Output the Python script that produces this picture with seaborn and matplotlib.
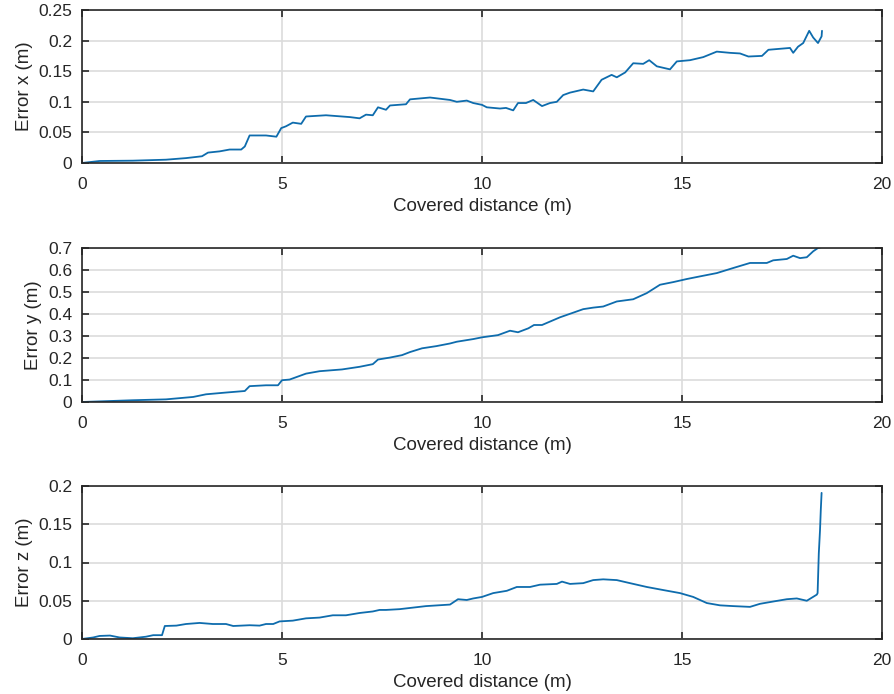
import numpy as np
import pandas as pd
import matplotlib
matplotlib.use("Agg")
import matplotlib.pyplot as plt
import seaborn as sns

# ---- data ----
dist_x = [0.0, 0.44, 1.27, 2.1, 2.6, 3.0, 3.15, 3.44, 3.69, 3.98, 4.07, 4.19, 4.6, 4.86,
          4.98, 5.1, 5.27, 5.48, 5.6, 6.1, 6.7, 6.94, 7.1, 7.27, 7.4, 7.6, 7.7, 8.1, 8.2,
          8.7, 9.2, 9.37, 9.62, 9.78, 10.0, 10.12, 10.45, 10.6, 10.78, 10.9, 11.1, 11.28,
          11.5, 11.7, 11.87, 12.03, 12.2, 12.53, 12.78, 12.99, 13.24, 13.37, 13.58, 13.78,
          14.03, 14.18, 14.37, 14.7, 14.87, 15.2, 15.53, 15.87, 16.2, 16.45, 16.66, 17.0,
          17.16, 17.7, 17.78, 17.9, 18.03, 18.18, 18.28, 18.4, 18.49, 18.5]
err_x = [0.0, 0.0033, 0.0038, 0.0054, 0.008, 0.011, 0.017, 0.019, 0.022, 0.022, 0.027,
         0.045, 0.045, 0.043, 0.057, 0.060, 0.066, 0.064, 0.076, 0.078, 0.075, 0.073,
         0.079, 0.078, 0.091, 0.087, 0.094, 0.096, 0.104, 0.107, 0.103, 0.100, 0.102,
         0.098, 0.095, 0.091, 0.089, 0.090, 0.086, 0.098, 0.098, 0.103, 0.093, 0.098,
         0.100, 0.111, 0.115, 0.120, 0.117, 0.136, 0.144, 0.140, 0.148, 0.163, 0.162,
         0.168, 0.158, 0.153, 0.166, 0.168, 0.173, 0.182, 0.180, 0.179, 0.174, 0.175,
         0.185, 0.188, 0.180, 0.190, 0.196, 0.216, 0.205, 0.196, 0.207, 0.216]

dist_y = [0.0, 1.27, 2.1, 2.78, 3.1, 3.6, 4.07, 4.19, 4.6, 4.9, 5.0, 5.19, 5.6, 5.94,
          6.5, 6.94, 7.27, 7.4, 7.7, 8.0, 8.2, 8.5, 8.86, 9.2, 9.37, 9.78, 10.0, 10.4,
          10.7, 10.9, 11.16, 11.3, 11.5, 11.95, 12.28, 12.53, 12.78, 13.03, 13.37, 13.78,
          14.12, 14.45, 14.78, 15.12, 15.45, 15.87, 16.28, 16.7, 17.12, 17.28, 17.62,
          17.78, 17.95, 18.12, 18.28, 18.4, 18.5]
err_y = [0.0, 0.008, 0.012, 0.023, 0.035, 0.043, 0.050, 0.072, 0.076, 0.076, 0.099,
         0.102, 0.129, 0.140, 0.148, 0.160, 0.172, 0.193, 0.202, 0.213, 0.227, 0.244,
         0.254, 0.266, 0.274, 0.286, 0.294, 0.304, 0.324, 0.317, 0.335, 0.350, 0.350,
         0.385, 0.406, 0.422, 0.429, 0.434, 0.457, 0.467, 0.495, 0.533, 0.545, 0.559,
         0.571, 0.586, 0.609, 0.632, 0.632, 0.644, 0.650, 0.665, 0.654, 0.658, 0.685,
         0.700, 0.705]

dist_z = [0.0, 0.28, 0.44, 0.7, 0.94, 1.27, 1.6, 1.78, 2.0, 2.07, 2.36, 2.6, 2.94, 3.27,
          3.6, 3.78, 4.19, 4.44, 4.6, 4.78, 4.94, 5.27, 5.6, 5.94, 6.27, 6.6, 6.94, 7.27,
          7.44, 7.6, 7.94, 8.27, 8.6, 9.2, 9.4, 9.62, 9.78, 10.0, 10.28, 10.62, 10.87,
          11.2, 11.45, 11.87, 12.0, 12.2, 12.53, 12.78, 13.03, 13.37, 13.7, 14.12, 14.53,
          14.95, 15.28, 15.62, 15.95, 16.28, 16.7, 16.95, 17.28, 17.62, 17.87, 18.12,
          18.37, 18.39, 18.42, 18.45, 18.47, 18.49]
err_z = [0.0, 0.002, 0.004, 0.0045, 0.002, 0.001, 0.003, 0.005, 0.005, 0.017, 0.0175,
         0.0196, 0.021, 0.0196, 0.0196, 0.017, 0.018, 0.0175, 0.0196, 0.0196, 0.023,
         0.024, 0.027, 0.028, 0.031, 0.031, 0.034, 0.036, 0.038, 0.038, 0.039, 0.041,
         0.043, 0.045, 0.052, 0.051, 0.053, 0.055, 0.060, 0.063, 0.068, 0.068, 0.071,
         0.072, 0.075, 0.072, 0.073, 0.077, 0.078, 0.077, 0.073, 0.068, 0.064, 0.060,
         0.055, 0.047, 0.044, 0.043, 0.042, 0.046, 0.049, 0.052, 0.053, 0.050, 0.058,
         0.060, 0.112, 0.142, 0.169, 0.191]

x_ticks = [0, 5, 10, 15, 20]
y_ticks = [
    [0, 0.05, 0.1, 0.15, 0.2, 0.25],
    [0, 0.1, 0.2, 0.3, 0.4, 0.5, 0.6, 0.7],
    [0, 0.05, 0.1, 0.15, 0.2],
]
y_labels = ["Error x (m)", "Error y (m)", "Error z (m)"]
x_label = "Covered distance (m)"

# ---- style ----
sns.set_theme(style="ticks")
plt.rcParams["font.family"] = ["Liberation Sans", "DejaVu Sans"]

W, H = 895, 694
fig = plt.figure(figsize=(W / 100, H / 100), dpi=100)

boxes = [(10, 163), (248, 402), (486, 639)]
left_px, right_px = 82, 882
series = [(dist_x, err_x), (dist_y, err_y), (dist_z, err_z)]
line_color = "#0e6cad"
dark = "#262626"

for i, ((top, bot), (d, e)) in enumerate(zip(boxes, series)):
    ax = fig.add_axes([left_px / W, 1 - bot / H, (right_px - left_px) / W, (bot - top) / H])
    df = pd.DataFrame({"dist": d, "err": e})
    sns.lineplot(data=df, x="dist", y="err", ax=ax, color=line_color, linewidth=1.3,
                 estimator=None, sort=False)
    ax.set_xlim(0, 20)
    ax.set_ylim(y_ticks[i][0], y_ticks[i][-1])
    ax.set_xticks(x_ticks)
    ax.set_yticks(y_ticks[i])
    ax.set_xticklabels([f"{t:g}" for t in x_ticks])
    ax.set_yticklabels([f"{t:g}" for t in y_ticks[i]])
    ax.grid(True, color="#dcdcdc", linewidth=1.2)
    ax.set_axisbelow(True)
    ax.tick_params(direction="in", length=5, width=1.2, colors=dark, labelsize=12.5,
                   top=True, right=True)
    ax.tick_params(axis="x", pad=10)
    ax.tick_params(axis="y", pad=7)
    for s in ax.spines.values():
        s.set_visible(True)
        s.set_color(dark)
        s.set_linewidth(1.2)
    ax.set_xlabel(x_label, fontsize=13.5, color=dark, labelpad=4.5)
    ax.set_ylabel(y_labels[i], fontsize=13.5, color=dark, labelpad=4)

fig.savefig("out.png", dpi=100)
